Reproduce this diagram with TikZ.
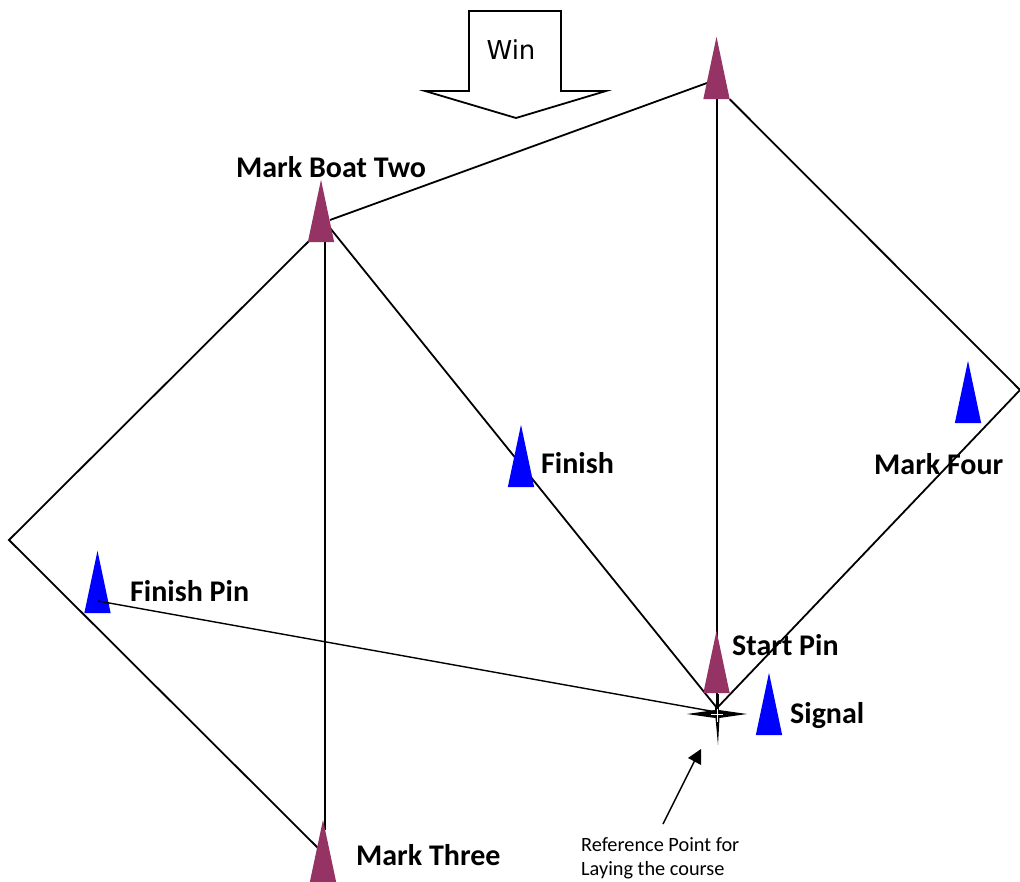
\documentclass[tikz,border=0pt]{standalone}
\usepackage{fontspec}
\setmainfont{Carlito}
\newfontfamily\winfont{DejaVu Sans}
\definecolor{plum}{HTML}{953464}
\definecolor{markblue}{HTML}{0000FF}
\tikzset{
  x=1pt,y=-1pt,
  course/.style={draw=black,line width=1.8pt,line join=miter},
  buoybox/.style={inner sep=0pt,minimum width=26pt,minimum height=62pt,draw=none,fill=none},
  lab/.style={font=\fontsize{30}{33}\selectfont\bfseries,anchor=west,inner sep=0pt},
  smalllab/.style={font=\fontsize{20.3}{24}\selectfont,anchor=west,align=left,inner sep=0pt},
}
\newcommand{\buoyfill}[2]{\fill[#2] (#1.north) -- (#1.south west) -- (#1.south east) -- cycle;}
\begin{document}
\begin{tikzpicture}
\useasboundingbox (0,0) rectangle (1020,882);
\fill[white] (0,0) rectangle (1020,882);
% marks (invisible boxes, filled after the lines)
\node[buoybox] (top) at (716.5,68) {};
\node[buoybox] (two) at (321,211) {};
\node[buoybox] (finish) at (521,456) {};
\node[buoybox] (four) at (968,392) {};
\node[buoybox] (pin) at (97.5,582) {};
\node[buoybox] (start) at (716.5,662) {};
\node[buoybox] (signal) at (769,704) {};
\node[buoybox] (three) at (323,851) {};
% free ends
\coordinate (west) at (9,540);
\coordinate (east) at (1020,390);
\coordinate (conv) at (717,708);
\coordinate (pinin) at (98,601);
\coordinate (convb) at (716,712);
\coordinate (topl) at (707,83);
\coordinate (twor) at (330,220);
\coordinate (twol) at (312,238);
\coordinate (twob) at (330,228);
\coordinate (threel) at (318,848);
\coordinate (twov) at (325,236);
\coordinate (threev) at (325,830);
\coordinate (vt) at (717.3,99);
\coordinate (vb) at (717.3,708);
% course lines
\draw[course] (vt) -- (vb);
\draw[course] (top.south east) -- (east) -- (conv);
\draw[course] (topl) -- (twor);
\draw[course] (twol) -- (west) -- (threel);
\draw[course] (twov) -- (threev);
\draw[course] (twob) -- (conv);
% mark fills
\buoyfill{top}{plum}
\buoyfill{two}{plum}
\buoyfill{start}{plum}
\buoyfill{three}{plum}
\buoyfill{finish}{markblue}
\buoyfill{four}{markblue}
\buoyfill{pin}{markblue}
\buoyfill{signal}{markblue}
\draw[course,line width=1.4pt] (pinin) -- (convb);
\draw[course,line width=3pt] (717.3,694) -- (717.3,708);
% reference star
\node[inner sep=0pt,minimum size=2pt] (star) at (717,714) {};
\fill[black]
  (687,714) -- (708,711) -- (715,710) -- (717,695)
  -- (719,710) -- (726,711) -- (747,714)
  -- (726,717) -- (719.5,718) -- (718,745)
  -- (715.5,718) -- (708,717) -- cycle;
\draw[white,line width=0.9pt] (711,714) -- (723,714) (717.3,709) -- (717.3,722);
% wind arrow
\node[font=\winfont\fontsize{26}{28}\selectfont,inner sep=0pt] (win) at (511,50) {Win};
\draw[course,line join=miter] (469,11) -- (561,11) -- (561,91) -- (606,91) -- (516,118) -- (425,91) -- (469,91) -- cycle;
% labels
\node[lab] (ltwo) at (236,167) {Mark Boat Two};
\node[lab] (lfinish) at (541,463) {Finish};
\node[lab] (lpin) at (130,591) {Finish Pin};
\node[lab] (lfour) at (874,464) {Mark Four};
\node[lab] (lstart) at (732,645) {Start Pin};
\node[lab] (lsignal) at (790,716) {Signal};
\node[lab] (lthree) at (356,855) {Mark Three};
\node[smalllab] (ref) at (581,858) {Reference Point for\\Laying the course};
% pointer arrow
\coordinate (ptail) at (663,824);
\coordinate (phead) at (701,749);
\fill[black] (phead) -- (688,758) -- (701,765) -- cycle;
\draw[black,line width=1.5pt] (ptail) -- (695,760);
\end{tikzpicture}
\end{document}
